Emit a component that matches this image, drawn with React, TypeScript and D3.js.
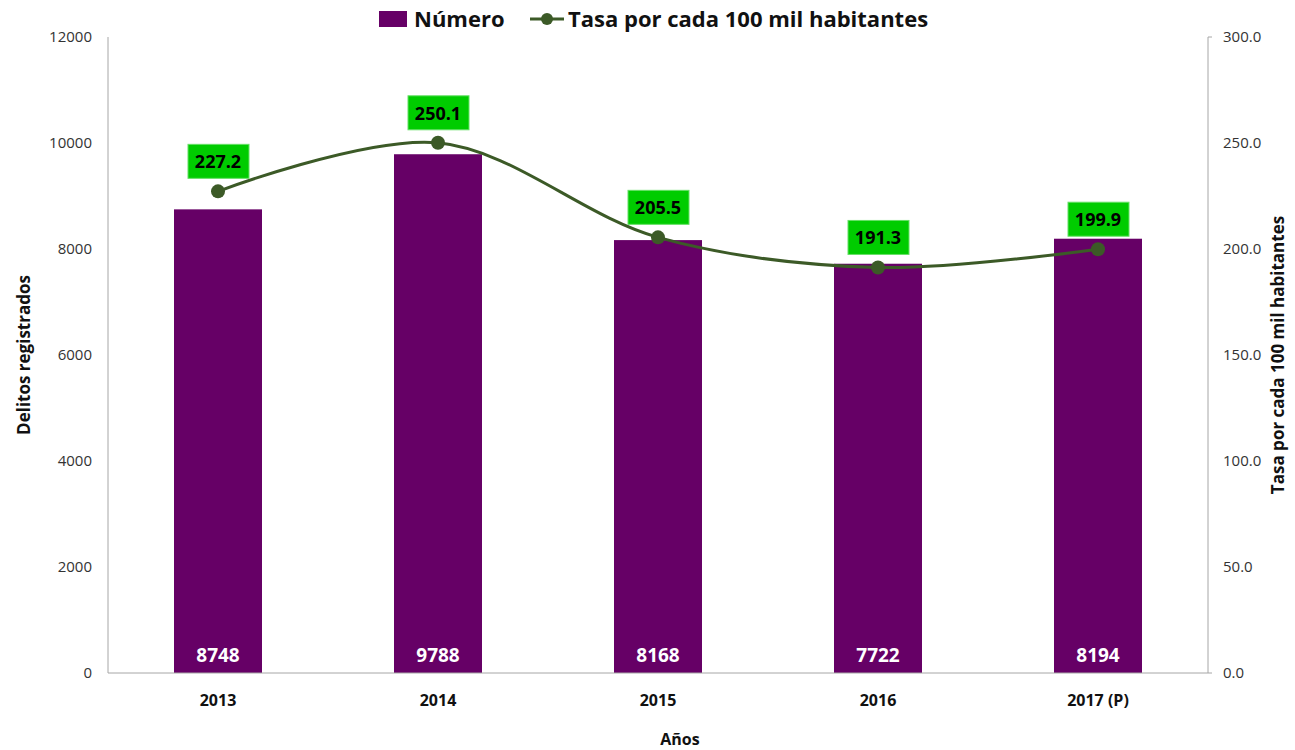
import React from 'react';
import * as d3 from 'd3';

const years = ['2013', '2014', '2015', '2016', '2017 (P)'];
const numero = [8748, 9788, 8168, 7722, 8194];
const tasa = [227.2, 250.1, 205.5, 191.3, 199.9];
const leftTicks = [0, 2000, 4000, 6000, 8000, 10000, 12000];
const rightTicks = [0, 50, 100, 150, 200, 250, 300];

const W = 1295;
const H = 750;
const m = { left: 108, right: 1208, top: 37, bottom: 673 };
const font = '"Open Sans", Lato, sans-serif';
const purple = '#660066';
const lineGreen = '#3c5a27';
const boxGreen = '#00cc00';

export default function App() {
  const x = d3.scaleBand().domain(years).range([m.left, m.right]);
  const yL = d3.scaleLinear().domain([0, 12000]).range([m.bottom, m.top]);
  const yR = d3.scaleLinear().domain([0, 300]).range([m.bottom, m.top]);
  const barW = x.bandwidth() * 0.4;
  const cx = (d: string) => (x(d) as number) + x.bandwidth() / 2;

  const line = d3
    .line<number>()
    .x((_, i) => cx(years[i]))
    .y((d) => yR(d))
    .curve(d3.curveCatmullRom.alpha(0.5));

  return (
    <svg
      width={W}
      height={H}
      style={{ position: 'absolute', left: 0, top: 0, background: '#fff' }}
      fontFamily={font}
    >
      {/* bars */}
      {numero.map((v, i) => (
        <rect
          key={years[i]}
          x={cx(years[i]) - barW / 2}
          y={yL(v)}
          width={barW}
          height={m.bottom - yL(v)}
          fill={purple}
        />
      ))}
      {numero.map((v, i) => (
        <text
          key={'n' + i}
          x={cx(years[i])}
          y={m.bottom - 11}
          fill="#fff"
          fontWeight="bold"
          fontSize={19}
          textAnchor="middle"
        >
          {v}
        </text>
      ))}

      {/* axes */}
      <line x1={m.left} x2={m.left} y1={m.top} y2={m.bottom} stroke="#a6a6a6" />
      <line x1={m.right} x2={m.right} y1={m.top} y2={m.bottom} stroke="#a6a6a6" />
      <line x1={m.right} x2={m.right + 4} y1={m.top} y2={m.top} stroke="#a6a6a6" />
      <line x1={m.left} x2={m.right + 4} y1={m.bottom} y2={m.bottom} stroke="#a6a6a6" />
      {leftTicks.map((t) => (
        <text key={'l' + t} x={92} y={yL(t) + 5} textAnchor="end" fontSize={15} fill="#333">
          {t}
        </text>
      ))}
      {rightTicks.map((t) => (
        <text key={'r' + t} x={1223} y={yR(t) + 5} fontSize={15} fill="#333">
          {t.toFixed(1)}
        </text>
      ))}
      {years.map((d) => (
        <text
          key={'x' + d}
          x={cx(d)}
          y={706}
          textAnchor="middle"
          fontSize={16}
          fontWeight="bold"
          fill="#111"
        >
          {d}
        </text>
      ))}

      {/* line */}
      <path d={line(tasa) || ''} fill="none" stroke={lineGreen} strokeWidth={3} />
      {tasa.map((v, i) => (
        <circle key={'c' + i} cx={cx(years[i])} cy={yR(v)} r={7} fill={lineGreen} />
      ))}
      {tasa.map((v, i) => (
        <g key={'b' + i} transform={`translate(${cx(years[i])},${yR(v) - 30})`}>
          <rect x={-30} y={-17} width={61} height={34} fill={boxGreen} stroke="#66e066" strokeWidth={1} />
          <text y={7} textAnchor="middle" fontSize={18} fontWeight="bold" fill="#000">
            {v.toFixed(1)}
          </text>
        </g>
      ))}

      {/* axis titles */}
      <text
        transform={`translate(30,${(m.top + m.bottom) / 2}) rotate(-90)`}
        textAnchor="middle"
        fontSize={17}
        fontWeight="bold"
        fill="#111"
      >
        Delitos registrados
      </text>
      <text
        transform={`translate(1284,${(m.top + m.bottom) / 2}) rotate(-90)`}
        textAnchor="middle"
        fontSize={17}
        fontWeight="bold"
        fill="#111"
      >
        Tasa por cada 100 mil habitantes
      </text>
      <text x={680} y={745} textAnchor="middle" fontSize={16} fontWeight="bold" fill="#111">
        Años
      </text>

      {/* legend */}
      <rect x={379} y={11} width={28} height={16} fill={purple} />
      <text x={414} y={27} fontSize={22} fontWeight="bold" fill="#111">
        Número
      </text>
      <line x1={530} x2={564} y1={19} y2={19} stroke={lineGreen} strokeWidth={3} />
      <circle cx={547} cy={19} r={6} fill={lineGreen} />
      <text x={568} y={27} fontSize={22} fontWeight="bold" fill="#111">
        Tasa por cada 100 mil habitantes
      </text>
    </svg>
  );
}
